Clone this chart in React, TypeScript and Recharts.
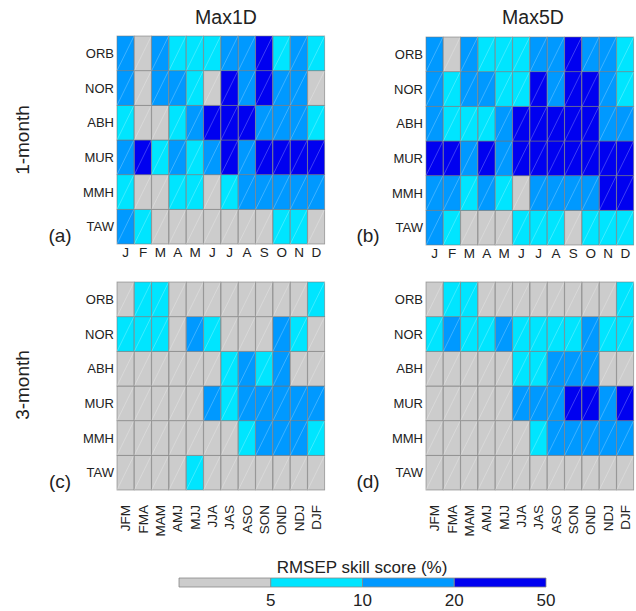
import { BarChart, Bar, XAxis, YAxis } from 'recharts';

// station rows, top to bottom
const ROWS = ['ORB', 'NOR', 'ABH', 'MUR', 'MMH', 'TAW'];
const MONTHS = ['J', 'F', 'M', 'A', 'M', 'J', 'J', 'A', 'S', 'O', 'N', 'D'];
const SEASONS = ['JFM', 'FMA', 'MAM', 'AMJ', 'MJJ', 'JJA', 'JAS', 'ASO', 'SON', 'OND', 'NDJ', 'DJF'];

// skill class: 0 = <5, 1 = 5-10, 2 = 10-20, 3 = 20-50
const max1d1m = [
  [2, 0, 2, 1, 1, 1, 2, 2, 3, 1, 2, 1],
  [2, 0, 2, 2, 1, 0, 3, 2, 3, 2, 2, 0],
  [1, 0, 0, 1, 2, 3, 3, 3, 2, 2, 2, 1],
  [2, 3, 1, 2, 1, 2, 3, 2, 3, 3, 3, 3],
  [1, 0, 0, 1, 1, 0, 1, 2, 2, 2, 2, 2],
  [2, 1, 0, 0, 0, 0, 0, 0, 0, 1, 1, 0],
];
const max5d1m = [
  [2, 0, 2, 1, 1, 1, 2, 2, 3, 2, 2, 1],
  [2, 1, 2, 2, 1, 1, 3, 2, 3, 3, 2, 1],
  [2, 1, 1, 1, 2, 3, 3, 3, 3, 3, 2, 2],
  [3, 3, 2, 3, 2, 3, 3, 3, 3, 3, 3, 3],
  [2, 2, 1, 2, 1, 0, 2, 2, 2, 2, 3, 3],
  [2, 1, 0, 0, 0, 1, 1, 1, 0, 1, 1, 1],
];
const max1d3m = [
  [0, 1, 1, 0, 0, 0, 0, 0, 0, 0, 0, 1],
  [1, 1, 1, 0, 2, 1, 0, 0, 0, 2, 1, 0],
  [0, 0, 0, 0, 0, 0, 1, 2, 1, 2, 0, 0],
  [0, 0, 0, 0, 0, 2, 1, 2, 2, 2, 2, 2],
  [0, 0, 0, 0, 0, 0, 0, 1, 2, 2, 2, 1],
  [0, 0, 0, 0, 1, 0, 0, 0, 0, 0, 0, 0],
];
const max5d3m = [
  [0, 1, 1, 0, 0, 0, 0, 0, 0, 0, 0, 1],
  [1, 2, 1, 1, 2, 1, 1, 1, 1, 2, 1, 1],
  [0, 0, 0, 0, 0, 1, 1, 2, 2, 2, 0, 0],
  [0, 0, 0, 0, 0, 2, 2, 2, 3, 3, 2, 3],
  [0, 0, 0, 0, 0, 0, 1, 2, 2, 2, 2, 2],
  [0, 0, 0, 0, 0, 0, 0, 0, 0, 0, 0, 0],
];

const CLASS_COLORS = ['#cccccc', '#00e5ff', '#0099ff', '#0000f0'];
const BAR_LABELS = ['5', '10', '20', '50'];

const FONT = '"Liberation Sans", Arial, sans-serif';
const GRID = 208;

function buildData(cols: string[], grid: number[][]) {
  return cols.map((c, i) => {
    const d: any = { col: c };
    ROWS.forEach((r, j) => {
      d[r] = 1;
      d[r + '_c'] = grid[j][i];
    });
    return d;
  });
}

const cellShape = (row: string) => (p: any) => {
  const fill = CLASS_COLORS[p.payload[row + '_c']];
  return (
    <g>
      <rect x={p.x} y={p.y} width={p.width} height={p.height} fill={fill} stroke="#777" strokeOpacity={0.7} strokeWidth={0.8} />
      <line x1={p.x} y1={p.y + p.height} x2={p.x + p.width} y2={p.y} stroke="#fff" strokeOpacity={0.35} strokeWidth={0.7} />
    </g>
  );
};

function SeasonTick(p: any) {
  const { x, y, payload } = p;
  const ty = y + 15;
  return (
    <text x={x} y={ty} transform={`rotate(-90 ${x} ${ty})`} textAnchor="end" dominantBaseline="central" fontSize={13.5} fill="#222" fontFamily={FONT}>
      {payload.value}
    </text>
  );
}

function Panel({ left, top, cols, grid, seasonal }: { left: number; top: number; cols: string[]; grid: number[][]; seasonal?: boolean }) {
  const data = buildData(cols, grid);
  const axisH = seasonal ? 60 : 24;
  return (
    <div style={{ position: 'absolute', left: left - 60, top: top - 5 }}>
      <BarChart width={60 + GRID + 3} height={5 + GRID + axisH} data={data} margin={{ top: 5, right: 3, left: 0, bottom: 0 }} barCategoryGap={0} barGap={0}>
        <XAxis
          dataKey="col"
          interval={0}
          tickLine={false}
          axisLine={false}
          height={axisH}
          tickSize={0}
          tickMargin={seasonal ? 0 : 3}
          tick={seasonal ? <SeasonTick /> : { fontSize: 13.5, fill: '#222', fontFamily: FONT }}
        />
        <YAxis
          type="number"
          domain={[0, 6]}
          ticks={[0.5, 1.5, 2.5, 3.5, 4.5, 5.5]}
          tickFormatter={(v: number) => ROWS[5 - Math.floor(v)]}
          width={60}
          tickLine={false}
          axisLine={false}
          tickSize={0}
          tickMargin={3}
          tick={{ fontSize: 13, fill: '#222', fontFamily: FONT }}
        />
        {[...ROWS].reverse().map((r) => (
          <Bar key={r} dataKey={r} stackId="s" isAnimationActive={false} shape={cellShape(r)} />
        ))}
      </BarChart>
    </div>
  );
}

function Txt({ x, y, size, children, rot }: { x: number; y: number; size: number; children: any; rot?: boolean }) {
  return (
    <div
      style={{
        position: 'absolute',
        left: x,
        top: y,
        transform: `translate(-50%, -50%)${rot ? ' rotate(-90deg)' : ''}`,
        fontSize: size,
        fontFamily: FONT,
        color: '#222',
        whiteSpace: 'nowrap',
        lineHeight: 1,
      }}
    >
      {children}
    </div>
  );
}

function ColorBar() {
  const data = [{ k: 'bar', c0: 1, c1: 1, c2: 1, c3: 1 }];
  return (
    <div style={{ position: 'absolute', left: 160, top: 573 }}>
      <BarChart width={400} height={40} data={data} layout="vertical" margin={{ top: 5, right: 14, left: 19, bottom: 0 }} barCategoryGap={0}>
        <XAxis
          type="number"
          domain={[0, 4]}
          ticks={[1, 2, 3, 4]}
          tickFormatter={(v: number) => BAR_LABELS[v - 1]}
          tickLine={false}
          axisLine={false}
          tickSize={0}
          tickMargin={7}
          height={26}
          tick={{ fontSize: 17, fill: '#222', fontFamily: FONT }}
        />
        <YAxis type="category" dataKey="k" hide />
        {CLASS_COLORS.map((c, i) => (
          <Bar key={i} dataKey={'c' + i} stackId="s" fill={c} stroke="#888" strokeWidth={0.8} isAnimationActive={false} />
        ))}
      </BarChart>
    </div>
  );
}

export default function App() {
  return (
    <div style={{ position: 'absolute', left: 0, top: 0, width: 636, height: 611, background: '#fff', overflow: 'hidden' }}>
      <Txt x={226} y={18} size={19.5}>Max1D</Txt>
      <Txt x={533} y={18} size={19.5}>Max5D</Txt>
      <Txt x={22} y={140} size={19}>
        <span style={{ display: 'inline-block', transform: 'rotate(-90deg)' }}>1-month</span>
      </Txt>
      <Txt x={22} y={385} size={19}>
        <span style={{ display: 'inline-block', transform: 'rotate(-90deg)' }}>3-month</span>
      </Txt>
      <Panel left={117} top={36} cols={MONTHS} grid={max1d1m} />
      <Panel left={426} top={37} cols={MONTHS} grid={max5d1m} />
      <Panel left={117} top={282} cols={SEASONS} grid={max1d3m} seasonal />
      <Panel left={426} top={282} cols={SEASONS} grid={max5d3m} seasonal />
      <Txt x={60} y={235} size={19}>(a)</Txt>
      <Txt x={368} y={235} size={19}>(b)</Txt>
      <Txt x={60} y={481} size={19}>(c)</Txt>
      <Txt x={368} y={481} size={19}>(d)</Txt>
      <Txt x={362} y={567} size={17}>RMSEP skill score (%)</Txt>
      <ColorBar />
    </div>
  );
}
